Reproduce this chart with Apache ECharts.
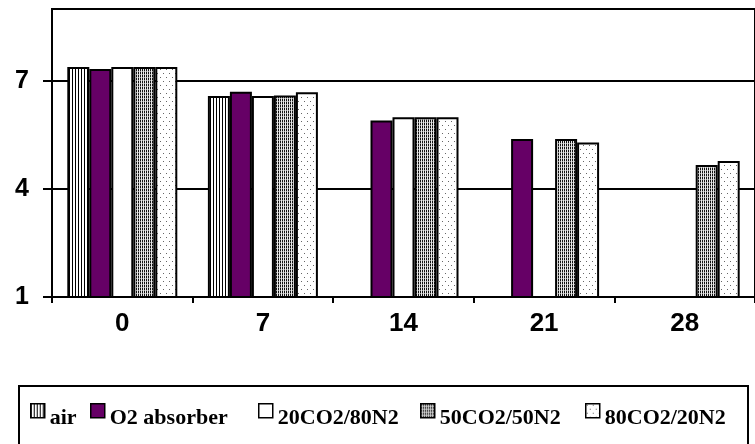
<!DOCTYPE html>
<html>
<head>
<meta charset="utf-8">
<script src="https://cdn.jsdelivr.net/npm/echarts@6/dist/echarts.min.js"></script>
<style>html,body{margin:0;padding:0;background:#fff;}#c{width:755px;height:444px;}</style>
</head>
<body>
<div id="c"></div>
<script>
const categories = ['0', '7', '14', '21', '28'];
const seriesNames = ['air', 'O2 absorber', '20CO2/80N2', '50CO2/50N2', '80CO2/20N2'];
const airValues = [7.39, 6.58, null, null, null];
const o2AbsorberValues = [7.33, 6.70, 5.90, 5.39, null];
const co2_20Values = [7.39, 6.58, 5.99, null, null];
const co2_50Values = [7.39, 6.60, 5.99, 5.39, 4.67];
const co2_80Values = [7.39, 6.69, 5.99, 5.29, 4.78];
const yMin = 1, yMax = 9, yInterval = 3;
const legendLefts = [30, 90, 258, 420, 585];

function makePattern(w, h, draw) {
  const c = document.createElement('canvas');
  c.width = w; c.height = h;
  const ctx = c.getContext('2d');
  ctx.fillStyle = '#fff';
  ctx.fillRect(0, 0, w, h);
  draw(ctx);
  return { image: c, repeat: 'repeat' };
}
const stripePattern = makePattern(3, 3, ctx => { ctx.fillStyle = '#000'; ctx.fillRect(0, 0, 1, 3); });
const densePattern = makePattern(2, 3, ctx => {
  ctx.fillStyle = '#111'; ctx.fillRect(0, 0, 1, 2);
  ctx.fillStyle = '#999'; ctx.fillRect(0, 2, 1, 1);
  ctx.fillStyle = '#e8e8e8'; ctx.fillRect(1, 0, 1, 3);
});
const sparsePattern = makePattern(6, 8, ctx => {
  ctx.fillStyle = '#666'; ctx.fillRect(1, 1, 1, 1); ctx.fillRect(4, 5, 1, 1);
});
const fills = [stripePattern, '#660066', '#ffffff', densePattern, sparsePattern];
const values = [airValues, o2AbsorberValues, co2_20Values, co2_50Values, co2_80Values];

// square icon at the top of a taller (invisible) box so the label sits lower, as in the original
const legendIcon = 'path://M0,0L14,0L14,14L0,14Z M7,30L7,30';
const chart = echarts.init(document.getElementById('c'), null, { renderer: 'canvas' });
chart.setOption({
  animation: false,
  backgroundColor: '#fff',
  grid: { left: 52, top: 9, width: 708, bottom: 147, show: true, borderColor: '#000', borderWidth: 2, backgroundColor: 'transparent' },
  legend: seriesNames.map((n, i) => ({
    left: legendLefts[i], top: 403, padding: 0, itemWidth: 14, itemHeight: 30, itemGap: 0,
    textStyle: { fontFamily: 'Liberation Serif', fontWeight: 'bold', fontSize: 22, color: '#000' },
    data: [{ name: n, icon: legendIcon, itemStyle: { color: fills[i], borderColor: '#000', borderWidth: 1.5 } }]
  })),
  graphic: [{ type: 'rect', shape: { x: 19, y: 386, width: 729, height: 80 }, style: { fill: 'none', stroke: '#000', lineWidth: 2 }, z: 10 }],
  xAxis: {
    type: 'category', data: categories,
    axisLine: { lineStyle: { color: '#000', width: 2 } },
    axisTick: { show: true, length: 6, lineStyle: { color: '#000', width: 2 } },
    axisLabel: { margin: 14, fontFamily: 'Liberation Sans', fontWeight: 'bold', fontSize: 26, color: '#000' }
  },
  yAxis: {
    type: 'value', min: yMin, max: yMax, interval: yInterval,
    axisLine: { show: true, lineStyle: { color: '#000', width: 2 } },
    axisTick: { show: true, length: 9, lineStyle: { color: '#000', width: 2 } },
    axisLabel: { margin: 23, showMaxLabel: false, fontFamily: 'Liberation Sans', fontWeight: 'bold', fontSize: 25, color: '#000' },
    splitLine: { show: true, lineStyle: { color: '#000', width: 2 } }
  },
  series: seriesNames.map((n, i) => ({
    name: n, type: 'bar', data: values[i], barWidth: 22, barGap: '0%',
    itemStyle: { color: fills[i], borderColor: '#000', borderWidth: 2 }
  }))
});
</script>
</body>
</html>
